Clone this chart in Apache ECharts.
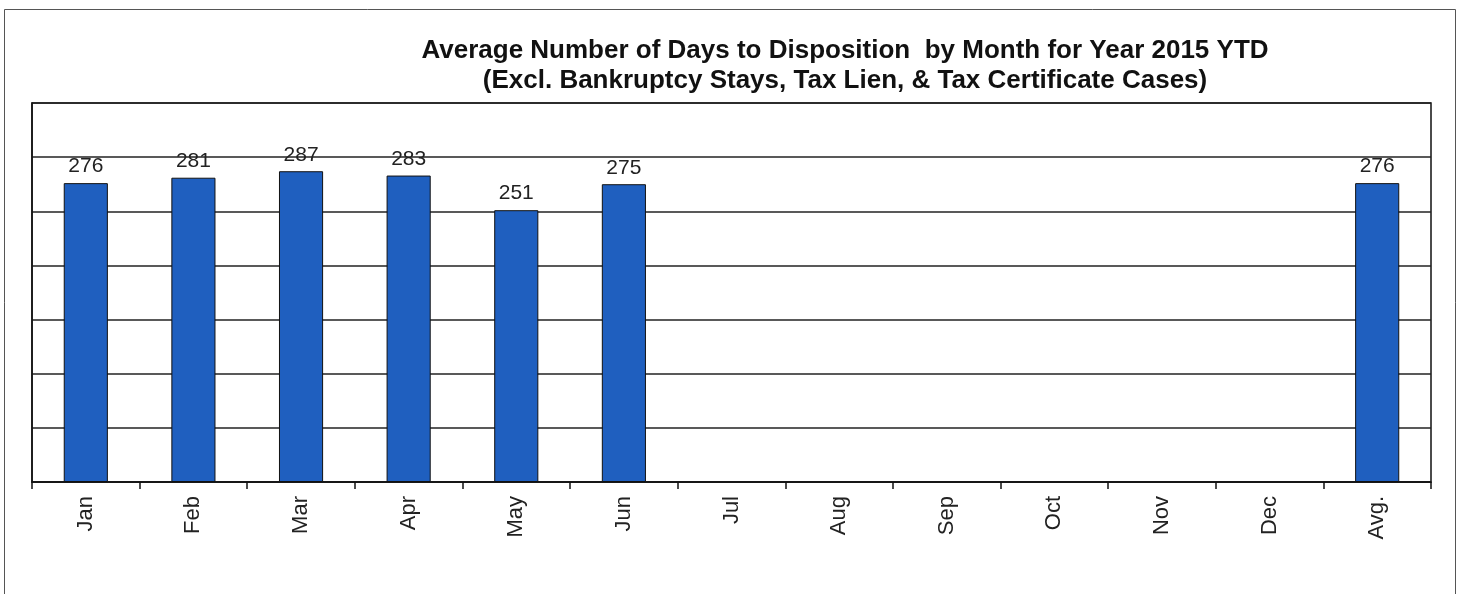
<!DOCTYPE html>
<html>
<head>
<meta charset="utf-8">
<script src="https://cdn.jsdelivr.net/npm/echarts@6/dist/echarts.min.js"></script>
<style>
  html, body { margin: 0; padding: 0; background: #fff; }
  #chart { width: 1462px; height: 594px; }
</style>
</head>
<body>
<div id="chart"></div>
<script>
// months plus the average column
const months = ['Jan', 'Feb', 'Mar', 'Apr', 'May', 'Jun', 'Jul', 'Aug', 'Sep', 'Oct', 'Nov', 'Dec', 'Avg.'];
// days to disposition (blank months have no bar)
const avgDays = [276, 281, 287, 283, 251, 275, null, null, null, null, null, null, 276];

const titleLines = [
  'Average Number of Days to Disposition  by Month for Year 2015 YTD',
  '(Excl. Bankruptcy Stays, Tax Lien, & Tax Certificate Cases)'
];

const myChart = echarts.init(document.getElementById('chart'));

const option = {
  backgroundColor: '#fff',
  animation: false,
  title: {
    text: titleLines.join('\n'),
    left: 840,
    top: 31,
    textAlign: 'center',
    textStyle: {
      fontFamily: 'Liberation Sans, Arial, sans-serif',
      fontSize: 26,
      fontWeight: 'bold',
      color: '#111',
      lineHeight: 30
    }
  },
  graphic: [{
    type: 'rect',
    shape: { x: 4.5, y: 9.5, width: 1451, height: 600 },
    style: { fill: 'none', stroke: '#555', lineWidth: 1 },
    silent: true,
    z: -1
  }],
  grid: {
    left: 32,
    right: 31,
    top: 103,
    bottom: 112,
    show: true,
    borderColor: '#111',
    borderWidth: 1.5,
    backgroundColor: '#fff'
  },
  xAxis: {
    type: 'category',
    data: months,
    boundaryGap: true,
    axisLine: { lineStyle: { color: '#111', width: 1.5 } },
    axisTick: { show: true, length: 7, lineStyle: { color: '#111', width: 1.5 } },
    axisLabel: {
      rotate: 90,
      interval: 0,
      margin: 14,
      fontFamily: 'Liberation Sans, Arial, sans-serif',
      fontSize: 22,
      color: '#222'
    }
  },
  yAxis: {
    type: 'value',
    min: 0,
    max: 350,
    interval: 50,
    axisLine: { show: true, lineStyle: { color: '#111', width: 1.5 } },
    axisTick: { show: false },
    axisLabel: { show: false },
    splitLine: { lineStyle: { color: '#222', width: 1.5 } }
  },
  series: [{
    type: 'bar',
    data: avgDays,
    barWidth: '41%',
    itemStyle: {
      color: '#1F5FBF',
      borderColor: '#111',
      borderWidth: 1
    },
    label: {
      show: true,
      position: 'top',
      distance: 6,
      fontFamily: 'Liberation Sans, Arial, sans-serif',
      fontSize: 21,
      color: '#222'
    }
  }]
};

myChart.setOption(option);
</script>
</body>
</html>
